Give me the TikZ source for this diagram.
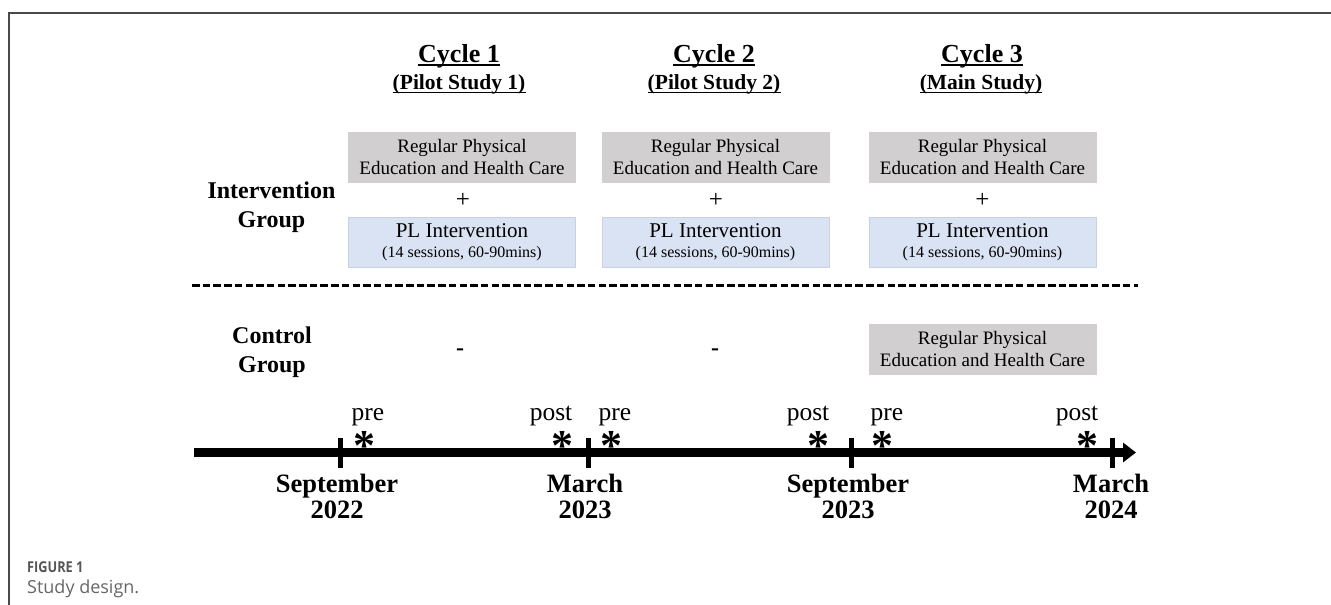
\documentclass[tikz,border=0pt]{standalone}
\usepackage{fontspec}
\setmainfont{Liberation Serif}
\newfontfamily\capfont{Open Sans}
\usetikzlibrary{arrows.meta}
\definecolor{boxgray}{HTML}{D1CFCF}
\definecolor{boxblue}{HTML}{DAE3F3}
\definecolor{blueedge}{HTML}{C9D1DE}
\definecolor{framecol}{HTML}{4A4A4A}
\definecolor{capcol}{HTML}{666666}
\definecolor{capcoldark}{HTML}{555555}
\newcommand\myfs[2]{\fontsize{#1}{#2}\selectfont}
\tikzset{
  graybox/.style={fill=boxgray, draw=boxgray, line width=0.6pt, minimum width=227pt, minimum height=50pt, inner sep=0pt, align=center, font=\myfs{19}{22}},
  bluebox/.style={fill=boxblue, draw=blueedge, line width=0.8pt, minimum width=227pt, minimum height=50pt, inner sep=0pt, align=center, font=\myfs{16}{20.5}},
  cycletitle/.style={anchor=base, inner sep=0pt, font=\bfseries\myfs{26}{26}},
  cyclesub/.style={anchor=base, inner sep=0pt, font=\bfseries\myfs{21.5}{21.5}},
  grouplabel/.style={align=center, inner sep=0pt, font=\bfseries\myfs{24}{29}},
  datelabel/.style={align=center, inner sep=0pt, font=\bfseries\myfs{26.5}{26}},
  prepost/.style={anchor=base, inner sep=0pt, font=\myfs{25.5}{25}},
  star/.style={anchor=base, inner sep=0pt, font=\bfseries\myfs{44}{44}},
  plussign/.style={inner sep=0pt, font=\myfs{25}{25}},
  nothing/.style={inner sep=0pt, font=\bfseries\myfs{24}{24}},
  tick/.style={line width=5pt},
  timeline/.style={line width=8.5pt, -{Triangle[length=13pt,width=19pt]}},
  sep/.style={line width=3pt, dash pattern=on 7.5pt off 3.2pt},
  frame/.style={draw=framecol, line width=1.3pt},
}
\begin{document}
\begin{tikzpicture}[x=1pt,y=-1pt]
\useasboundingbox (0,0) rectangle (1331,605);
% frame
\coordinate (fa) at (9,605);
\coordinate (fb) at (9,13);
\coordinate (fc) at (1331,13);
\draw[frame] (fa) -- (fb) -- (fc);

% cycle headings
\node[cycletitle] (c1) at (459,62) {Cycle 1};
\node[cyclesub] (s1) at (459,89) {(Pilot Study 1)};
\node[cycletitle] (c2) at (714,62) {Cycle 2};
\node[cyclesub] (s2) at (714,89) {(Pilot Study 2)};
\node[cycletitle] (c3) at (982,62) {Cycle 3};
\node[cyclesub] (s3) at (981,89) {(Main Study)};
\foreach \n in {c1,c2,c3}{
  \draw[line width=2pt] ([yshift=-3pt]\n.base west) -- ([yshift=-3pt]\n.base east);
}
\foreach \n in {s1,s2,s3}{
  \draw[line width=1.6pt] ([yshift=-3.5pt]\n.base west) -- ([yshift=-3.5pt]\n.base east);
}

% intervention group
\node[grouplabel] (ig) at (271.5,207) {Intervention\\Group};
\node[graybox] (g1) at (462,157) {Regular Physical\\Education and Health Care};
\node[graybox] (g2) at (715.5,157) {Regular Physical\\Education and Health Care};
\node[graybox] (g3) at (982.5,157) {Regular Physical\\Education and Health Care};
\node[plussign] (p1) at (463,200) {+};
\node[plussign] (p2) at (716,200) {+};
\node[plussign] (p3) at (982.5,200) {+};
\node[bluebox] (b1) at (462,242) {{\myfs{21}{20.5}PL Intervention}\\(14 sessions, 60-90mins)};
\node[bluebox] (b2) at (715.5,242) {{\myfs{21}{20.5}PL Intervention}\\(14 sessions, 60-90mins)};
\node[bluebox] (b3) at (982.5,242) {{\myfs{21}{20.5}PL Intervention}\\(14 sessions, 60-90mins)};

% separator
\coordinate (sa) at (192,285);
\coordinate (sb) at (1138,285);
\draw[sep] (sa) -- (sb);

% control group
\node[grouplabel] (cg) at (272,352) {Control\\Group};
\node[nothing] (n1) at (460,352) {-};
\node[nothing] (n2) at (715,352) {-};
\node[graybox] (g4) at (982.5,349) {Regular Physical\\Education and Health Care};

% timeline
\coordinate (ta) at (194,452.5);
\coordinate (tb) at (1136,452.5);
\draw[timeline] (ta) -- (tb);
\foreach \x [count=\i] in {340,588,851,1112}{
  \coordinate (k\i a) at (\x,438);
  \coordinate (k\i b) at (\x,468);
  \draw[tick] (k\i a) -- (k\i b);
}

% pre / post labels and stars
\node[prepost] (l1) at (368,420) {pre};
\node[prepost] (l2) at (551,420) {post};
\node[prepost] (l3) at (615,420) {pre};
\node[prepost] (l4) at (808,420) {post};
\node[prepost] (l5) at (887,420) {pre};
\node[prepost] (l6) at (1077,420) {post};
\node[star] (a1) at (364,460) {*};
\node[star] (a2) at (562,460) {*};
\node[star] (a3) at (611,460) {*};
\node[star] (a4) at (818,460) {*};
\node[star] (a5) at (882,460) {*};
\node[star] (a6) at (1087,460) {*};

% dates
\node[datelabel] (d1) at (337,496) {September\\2022};
\node[datelabel] (d2) at (585,496) {March\\2023};
\node[datelabel] (d3) at (848,496) {September\\2023};
\node[datelabel] (d4) at (1111,496) {March\\2024};

% caption
\node[anchor=base west, inner sep=0pt, text=capcoldark, font=\capfont\bfseries\myfs{15}{15}] (fig) at (27,572) {\scalebox{0.85}[1]{FIGURE 1}};
\node[anchor=base west, inner sep=0pt, text=capcol, font=\capfont\myfs{18}{18}] (cap) at (27,593) {Study design.};
\end{tikzpicture}
\end{document}
